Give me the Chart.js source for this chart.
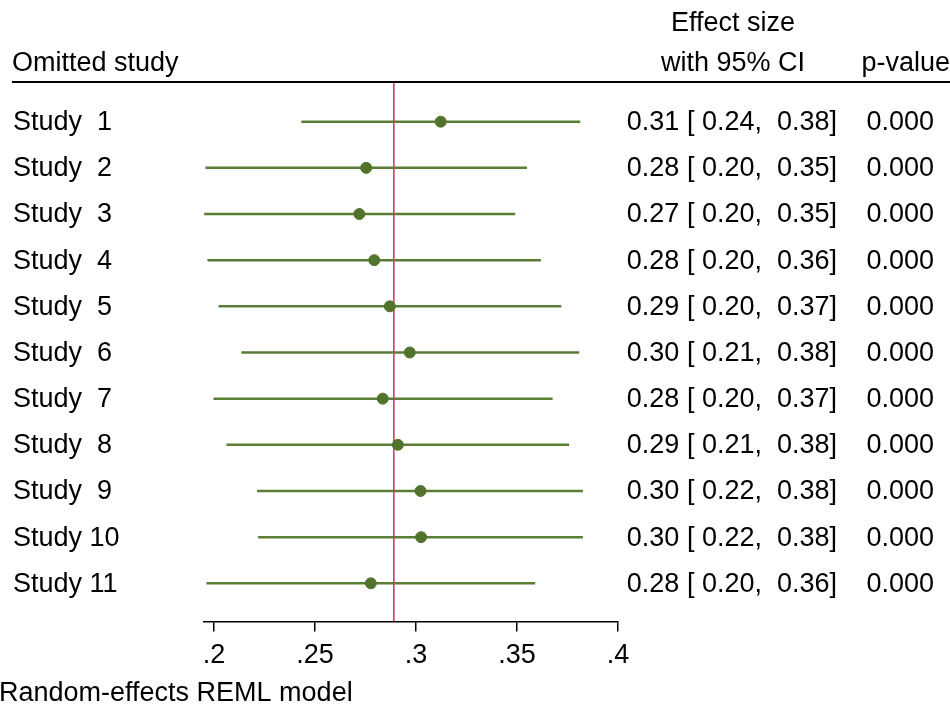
<!DOCTYPE html>
<html>
<head>
<meta charset="utf-8">
<script src="https://cdn.jsdelivr.net/npm/chart.js@4"></script>
<style>
  body { margin: 0; background: #fff; }
  canvas { display: block; }
</style>
</head>
<body>
<canvas id="forest" width="950" height="706"></canvas>
<script>
// leave-one-out estimates
const studies = ['Study  1', 'Study  2', 'Study  3', 'Study  4', 'Study  5', 'Study  6',
                 'Study  7', 'Study  8', 'Study  9', 'Study 10', 'Study 11'];
const effect = [0.3122, 0.2753, 0.2719, 0.2793, 0.2870, 0.2969, 0.2835, 0.2910, 0.3022, 0.3025, 0.2776];
const ciLow  = [0.2432, 0.1957, 0.1951, 0.1967, 0.2022, 0.2135, 0.1997, 0.2061, 0.2213, 0.2218, 0.1962];
const ciHigh = [0.3813, 0.3549, 0.3491, 0.3618, 0.3719, 0.3808, 0.3676, 0.3758, 0.3826, 0.3826, 0.3590];
const pValues = [0, 0, 0, 0, 0, 0, 0, 0, 0, 0, 0];
const overall = 0.289;
const xTicks = [0.2, 0.25, 0.3, 0.35, 0.4];

const FONT = '"Liberation Sans", Arial, sans-serif';
const green = '#5a7d36';
const dotGreen = '#52732c';
const red = '#d13a6b';

const yTop = 0.14, yBottom = 11.83;

// one short line per study for the CI
const ciSets = studies.map((s, i) => ({
  type: 'line',
  data: [{ x: ciLow[i], y: i + 1 }, { x: ciHigh[i], y: i + 1 }],
  borderColor: green,
  borderWidth: 2.5,
  pointRadius: 0,
  order: 2
}));

const textPlugin = {
  id: 'forestText',
  afterDraw(chart) {
    const ctx = chart.ctx;
    const y = chart.scales.y;
    ctx.save();
    ctx.fillStyle = '#000';
    ctx.font = '27px ' + FONT;
    ctx.textBaseline = 'middle';

    // headers
    ctx.textAlign = 'left';
    ctx.fillText('Omitted study', 12, 64);
    ctx.textAlign = 'center';
    ctx.fillText('Effect size', 733, 24);
    ctx.fillText('with 95% CI', 733, 64);
    ctx.textAlign = 'right';
    ctx.fillText('p-value', 950, 64);

    // rule under the headers
    ctx.strokeStyle = '#000';
    ctx.lineWidth = 2;
    ctx.beginPath();
    ctx.moveTo(12, 82);
    ctx.lineTo(950, 82);
    ctx.stroke();

    studies.forEach((s, i) => {
      const py = y.getPixelForValue(i + 1) + 1;
      ctx.textAlign = 'left';
      ctx.fillText(s, 13, py);
      ctx.textAlign = 'right';
      const txt = effect[i].toFixed(2) + ' [ ' + ciLow[i].toFixed(2) + ',  ' + ciHigh[i].toFixed(2) + ']';
      ctx.fillText(txt, 837, py);
      ctx.fillText(pValues[i].toFixed(3), 934, py);
    });

    ctx.textAlign = 'left';
    ctx.fillText('Random-effects REML model', -1, 694);
    ctx.restore();
  }
};

new Chart(document.getElementById('forest'), {
  type: 'scatter',
  data: {
    datasets: [
      {
        type: 'scatter',
        data: effect.map((v, i) => ({ x: v, y: i + 1 })),
        backgroundColor: dotGreen,
        borderColor: dotGreen,
        pointRadius: 5.5,
        order: 0
      },
      {
        type: 'line',
        data: [{ x: overall, y: yTop }, { x: overall, y: yBottom }],
        borderColor: red,
        borderWidth: 1.6,
        pointRadius: 0,
        order: 1
      },
      ...ciSets
    ]
  },
  options: {
    responsive: false,
    animation: false,
    layout: { padding: { left: 204, right: 332, top: 82, bottom: 26 } },
    plugins: {
      legend: { display: false },
      tooltip: { enabled: false }
    },
    scales: {
      x: {
        type: 'linear',
        min: 0.195,
        max: 0.4,
        afterBuildTicks: (scale) => { scale.ticks = xTicks.map(v => ({ value: v })); },
        grid: { display: true, drawOnChartArea: false, drawTicks: true, tickLength: 10, color: '#000', lineWidth: 1.5 },
        border: { display: true, color: '#000', width: 1.5 },
        ticks: {
          color: '#000',
          padding: 8,
          autoSkip: false,
          maxRotation: 0,
          font: { family: FONT, size: 27 },
          callback: (v) => String(v).replace(/^0/, '')
        }
      },
      y: {
        type: 'linear',
        reverse: true,
        min: yTop,
        max: yBottom,
        display: false
      }
    }
  },
  plugins: [textPlugin]
});
</script>
</body>
</html>
